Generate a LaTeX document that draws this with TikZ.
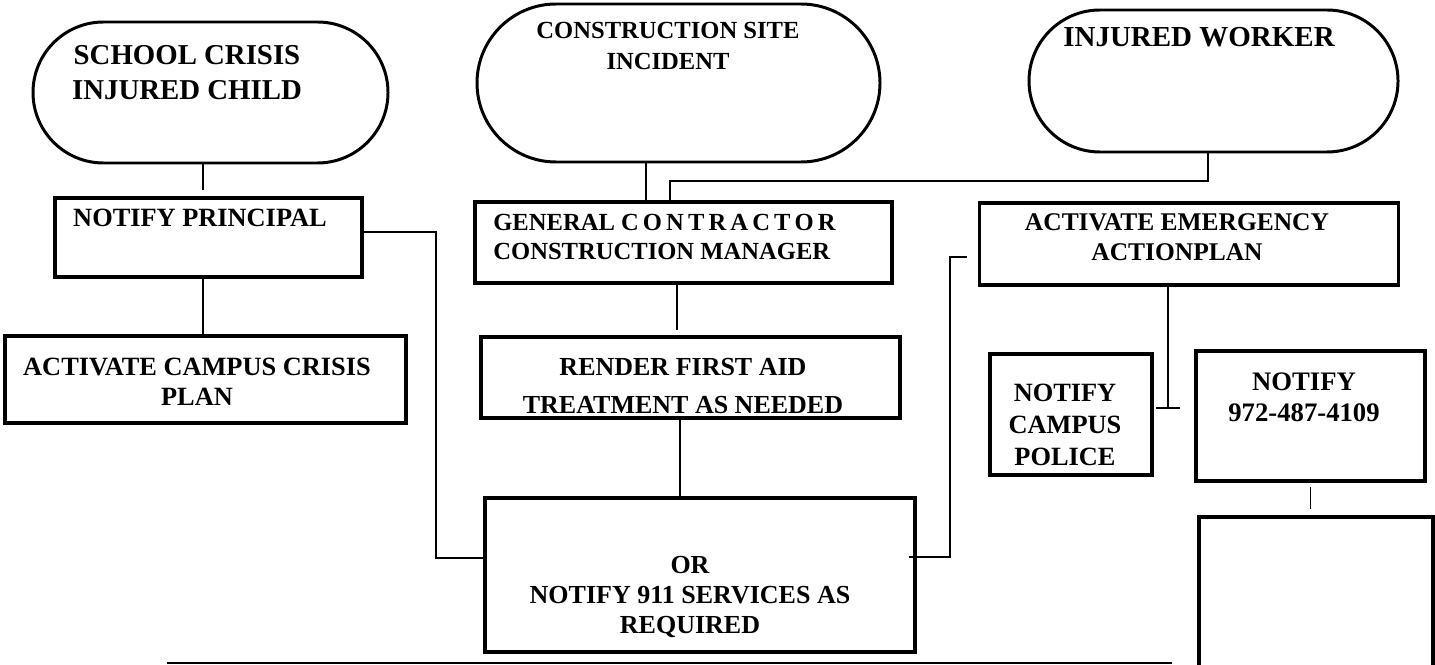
\documentclass[tikz,border=0pt]{standalone}
\usepackage{fontspec}
\setmainfont{Liberation Serif}
\usetikzlibrary{shapes.misc,arrows.meta}
\newcommand{\fsz}[2]{\fontsize{#1}{#2}\selectfont}
\tikzset{
  term/.style 2 args={draw,rounded rectangle,line width=1.7pt,inner sep=0pt,outer sep=0pt,
    minimum width=#1*0.02cm,minimum height=#2*0.02cm},
  box/.style 2 args={draw,rectangle,line width=1.9pt,inner sep=0pt,outer sep=0pt,
    minimum width=#1*0.02cm,minimum height=#2*0.02cm},
  txt/.style={font=\bfseries\fsz{15}{17},align=center,inner sep=0pt},
  conn/.style={line width=0.9pt}
}
\begin{document}
\begin{tikzpicture}[x=0.02cm,y=-0.02cm]
\useasboundingbox (0,0) rectangle (1435,665);
% incidents
\node[term={355}{141}] (t1) at (210.5,92.5) {};
\node[term={403}{158}] (t2) at (678.5,83) {};
\node[term={369}{142}] (t3) at (1213.5,81) {};
\node[txt,font=\bfseries\fsz{16.4}{20}] (t1-txt) at (187,72.5) {SCHOOL CRISIS\\INJURED CHILD};
\node[txt,font=\bfseries\fsz{14}{18}] (t2-txt) at (668,46) {CONSTRUCTION SITE\\INCIDENT};
\node[txt,font=\bfseries\fsz{16.5}{20}] (t3-txt) at (1199,37) {INJURED WORKER};
% steps
\node[box={307}{79}] (principal) at (208.5,237.5) {};
\node[box={417}{81}] (gc) at (683.5,242.5) {};
\node[box={419}{82}] (eap) at (1189,244) {};
\node[box={401}{87}] (crisis) at (205.5,379.5) {};
\node[box={419}{81}] (render) at (690.5,377.5) {};
\node[box={430}{154}] (n911) at (700,575) {};
\node[box={162}{121}] (police) at (1071,414.5) {};
\node[box={229}{130}] (n972) at (1310.5,416) {};
\node[box={234}{183}] (blank) at (1316,608.5) {};
\node[txt] (principal-txt) at (200,218) {NOTIFY PRINCIPAL};
\node[txt,font=\bfseries\fsz{14}{16.5},align=left,anchor=west] (gc-txt) at (493,236.5) {GENERAL C\,O\,N\,T\,R\,A\,C\,T\,O\,R\\CONSTRUCTION MANAGER};
\node[txt,font=\bfseries\fsz{14.5}{17}] (eap-txt) at (1177,237) {ACTIVATE EMERGENCY\\ACTIONPLAN};
\node[txt] (crisis-txt) at (197,382) {ACTIVATE CAMPUS CRISIS\\PLAN};
\node[txt,font=\bfseries\fsz{14.8}{21.5}] (render-txt) at (683,386) {RENDER FIRST AID\\TREATMENT AS NEEDED};
\node[txt,font=\bfseries\fsz{14.8}{17}] (n911-txt) at (690,597) {OR\\NOTIFY 911 SERVICES AS\\REQUIRED};
\node[txt,font=\bfseries\fsz{15}{18}] (police-txt) at (1065,425) {NOTIFY\\CAMPUS\\POLICE};
\node[txt,font=\bfseries\fsz{15.2}{17.6}] (n972-txt) at (1304,397.5) {NOTIFY\\972-487-4109};
% links
\draw[conn,shorten >=0.16cm] ([xshift=-0.15cm]t1.south) -- ([xshift=-0.15cm]t1.south |- principal.north);
\draw[conn] ([xshift=-0.11cm]principal.south) -- ([xshift=-0.11cm]principal.south |- crisis.north);
\draw[conn] ([yshift=0.11cm]principal.east) -- ++(74,0) |- ([yshift=0.34cm]n911.west);
\draw[conn] ([xshift=-0.65cm]t2.south) -- ([xshift=-0.65cm]t2.south |- gc.north);
\draw[conn] ([xshift=-0.11cm]t3.south) -- ++(0,29) -| ([xshift=-0.27cm]gc.north);
\draw[conn,shorten >=0.14cm] ([xshift=-0.13cm]gc.south) -- ([xshift=-0.13cm]gc.south |- render.north);
\draw[conn] ([xshift=-0.21cm]render.south) -- ([xshift=-0.21cm]render.south |- n911.north);
\draw[conn,shorten <=-0.12cm,shorten >=0.26cm] ([yshift=0.36cm]n911.east) -- ++(35,0) |- ([yshift=-0.26cm]eap.west);
\draw[conn,-{Bar[width=0.48cm]}] ([xshift=-0.42cm]eap.south) -- ++(0,124);
\draw[conn,line width=1.1pt,shorten <=0.12cm,shorten >=0.16cm] (n972.south) -- (n972.south |- blank.north);
\draw[conn,line width=1pt] (167,663) -- (1172,663);
\end{tikzpicture}
\end{document}
